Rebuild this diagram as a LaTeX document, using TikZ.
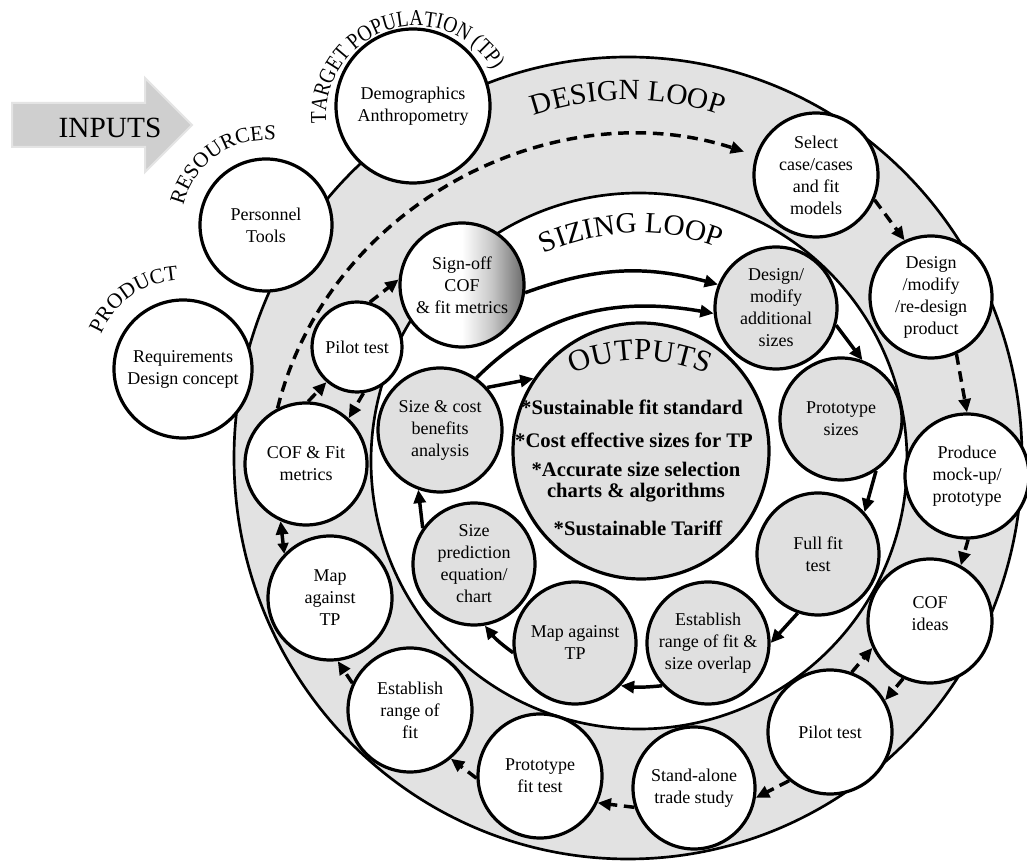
\documentclass[tikz,border=0pt]{standalone}
\usepackage{fontspec}
\setmainfont{Liberation Serif}
\newfontfamily\condfont[FakeStretch=0.85]{Liberation Serif}
\usetikzlibrary{arrows.meta,decorations.text,calc}
\definecolor{ringgray}{HTML}{E2E2E2}
\definecolor{nodegray}{HTML}{E0E0E0}
\definecolor{arrowgray}{HTML}{CFCFCF}
\definecolor{arrowedge}{HTML}{E4E4E4}
\pgfdeclarehorizontalshading{signoffshade}{100bp}{color(0bp)=(white); color(25bp)=(white); color(50bp)=(white); color(62bp)=(black!22); color(75bp)=(black!58); color(100bp)=(black!58)}
\begin{document}
\begin{tikzpicture}[x=0.75pt,y=0.75pt,
  every node/.style={font=\fontsize{13.5}{16.5}\selectfont, align=center},
  cnode/.style={circle, draw, line width=2.4pt, inner sep=0pt, minimum size=#1*1.5pt},
  wnode/.style={cnode=#1, fill=white},
  gnode/.style={cnode=#1, fill=nodegray},
  ringline/.style={line width=2pt},
  sarrow/.style={line width=2.6pt, -{Triangle[length=10pt,width=9pt]}},
  darrow/.style={line width=2.6pt, dash pattern=on 8pt off 5pt, -{Triangle[length=10pt,width=9pt]}},
  bothtips/.style={{Triangle[length=8pt,width=8pt]}-{Triangle[length=10pt,width=9pt]}}
]
\useasboundingbox (0,0) rectangle (1027,863);
\fill[white] (0,0) rectangle (1027,863);

% INPUTS arrow
\filldraw[fill=arrowgray, draw=arrowedge, line width=1.5pt, line join=miter]
  (12,716) -- (145,716) -- (145,691) -- (192,738) -- (145,785) -- (145,760) -- (12,760) -- cycle;
\node[font=\fontsize{22}{22}\selectfont] (inputs) at (110,735) {INPUTS};

% loops
\draw[ringline, fill=ringgray] (628,405) ellipse [x radius=394, y radius=401];
\draw[ringline, fill=white] (639,402) circle [radius=268];

% input circles
\node[wnode=69] (req) at (183,494) {Requirements\\Design concept};
\node[wnode=66] (pers) at (266,638) {Personnel\\Tools};
\node[wnode=77] (demo) at (413,757) {Demographics\\Anthropometry};

% design loop nodes
\node[wnode=62] (select) at (816,688) {Select\\case/cases\\and fit\\models};
\node[wnode=61] (dprod) at (931,566) {Design\\/modify\\/re-design\\product};
\node[wnode=62] (produce) at (967,387) {Produce\\mock-up/\\prototype};
\node[wnode=62] (cofideas) at (930,242) {COF\\ideas\\[-6pt]\mbox{}};
\node[wnode=62] (pilotD) at (830,131) {Pilot test};
\node[wnode=61] (stand) at (694,75) {Stand-alone\\trade study};
\node[wnode=62] (protofit) at (540,87) {Prototype\\fit test};
\node[wnode=62] (estab) at (410,153) {Establish\\range of\\fit};
\node[wnode=62] (mapD) at (330,265) {Map\\against\\TP};
\node[wnode=61] (coffit) at (306,399) {COF \& Fit\\metrics};
\node[wnode=45] (pilotS) at (357,516) {Pilot test};
\node[cnode=62, shade, shading=signoffshade] (signoff) at (462,578) {Sign-off\\COF\\\& fit metrics};

% sizing loop nodes
\node[gnode=61] (dmod) at (776,555) {Design/\\modify\\additional\\sizes};
\node[gnode=61] (protosz) at (841,444) {Prototype\\sizes};
\node[gnode=61] (fullfit) at (818,309) {Full fit\\test};
\node[gnode=61] (estabS) at (708,220) {Establish\\range of fit \&\\size overlap};
\node[gnode=61] (mapS) at (575,220) {Map against\\TP};
\node[gnode=61] (sizepred) at (474,299) {Size\\prediction\\equation/\\chart};
\node[gnode=62] (sizecost) at (440,433) {Size \& cost\\benefits\\analysis};

% outputs
\node[gnode=128] (outputs) at (641,412) {};
\node[font=\fontsize{15.5}{15.75}\selectfont\bfseries] (out1) at (632,456) {*Sustainable fit standard};
\node[font=\fontsize{15.5}{15.75}\selectfont\bfseries] (out2) at (634,423) {*Cost effective sizes for TP};
\node[font=\fontsize{15.5}{15.75}\selectfont\bfseries] (out3) at (636,381) {*Accurate size selection\\charts \& algorithms};
\node[font=\fontsize{15.5}{15.75}\selectfont\bfseries] (out4) at (638,335) {*Sustainable Tariff};

% curved labels
\path[decorate, decoration={text along path, text align=center, text={|\fontsize{16}{16}\selectfont|PRODUCT}}]
  ($(req.center)+(175:89)$) arc[start angle=175, end angle=75, radius=89];
\path[decorate, decoration={text along path, text align=center, text={|\fontsize{16}{16}\selectfont|RESOURCES}}]
  ($(pers.center)+(180:85)$) arc[start angle=180, end angle=70, radius=85];
\path[decorate, decoration={text along path, text align=center, text={|\condfont\fontsize{17}{17}\selectfont|TARGET POPULATION (TP)}}]
  ($(416,747)+(205:90)$) arc[start angle=205, end angle=10, radius=90];
\path[decorate, decoration={text along path, text align=center, text={|\fontsize{22}{22}\selectfont|DESIGN LOOP}}]
  ($(628,470)+(120:293)$) arc[start angle=120, end angle=60, radius=293];
\path[decorate, decoration={text along path, text align=center, text={|\fontsize{22}{22}\selectfont|SIZING LOOP}}]
  ($(639,402)+(127:228)$) arc[start angle=127, end angle=57, radius=228];
\path[decorate, decoration={text along path, text align=center, text={|\fontsize{23}{23}\selectfont|OUTPUTS}}]
  ($(640,336)+(125:167)$) arc[start angle=125, end angle=55, radius=167];

% sizing loop arrows
\draw[sarrow] (sizecost.55) to[out=45,in=170] (dmod.185);
\draw[sarrow] (signoff.-7) to[out=20,in=165] (dmod.158);
\draw[sarrow] (dmod.-16) -- (protosz.70);
\draw[sarrow] (protosz.-56) -- (fullfit.42);
\draw[sarrow] (fullfit.-109) -- (estabS.0);
\draw[sarrow] (estabS.-137) to[bend left=6] (mapS.-43);
\draw[sarrow] (mapS.189) to[bend left=8] (sizepred.-80);
\draw[sarrow] (sizepred.145) -- (sizecost.-110);
\draw[sarrow] (sizecost.42) -- (outputs.146);

% design loop arrows
\draw[darrow, shorten >=9pt] (coffit.117) to[out=76,in=162] (select.162);
\draw[darrow] (select.-23) -- (dprod.115);
\draw[darrow] (dprod.-66) -- (produce.90);
\draw[darrow] (produce.-89) -- (cofideas.61);
\draw[darrow] (pilotD.70) -- (cofideas.205);
\draw[darrow] (cofideas.245) -- (pilotD.30);
\draw[darrow] (pilotD.230) -- (stand.-9);
\draw[darrow] (stand.198) -- (protofit.-25);
\draw[darrow] (protofit.182) -- (estab.-50);
\draw[darrow] (estab.155) -- (mapD.-83);
\draw[darrow, bothtips] (mapD.136) -- (coffit.246);
\draw[darrow] (coffit.88) -- (pilotS.229);
\draw[darrow] (pilotS.-82) -- (coffit.47);
\draw[darrow] (pilotS.74) -- (signoff.175);
\end{tikzpicture}
\end{document}
